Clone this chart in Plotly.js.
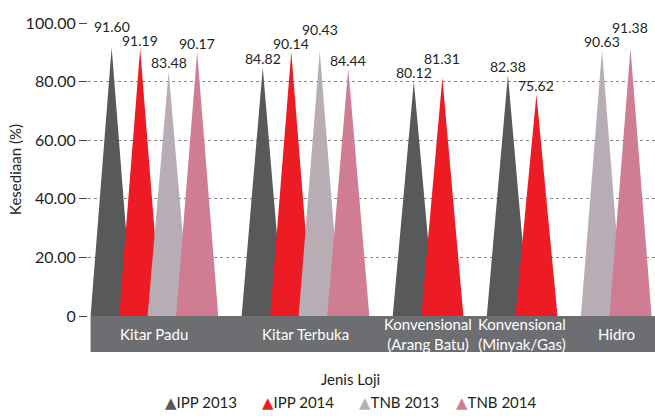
<!DOCTYPE html>
<html>
<head>
<meta charset="utf-8">
<script src="https://cdn.plot.ly/plotly-3.0.1.min.js"></script>
<style>
  html, body { margin: 0; padding: 0; background: #fff; }
  #chart { width: 655px; height: 416px; }
</style>
</head>
<body>
<div id="chart"></div>
<script>
// Kesediaan loji (%) mengikut jenis loji
var categories = ['Kitar Padu', 'Kitar Terbuka', 'Konvensional<br>(Arang Batu)', 'Konvensional<br>(Minyak/Gas)', 'Hidro'];
var seriesNames = ['IPP 2013', 'IPP 2014', 'TNB 2013', 'TNB 2014'];
var ipp2013 = [91.60, 84.82, 80.12, 82.38, null];
var ipp2014 = [91.19, 90.14, 81.31, 75.62, null];
var tnb2013 = [83.48, 90.43, null, null, 90.63];
var tnb2014 = [90.17, 84.44, null, null, 91.38];
var yTickVals = [0, 20, 40, 60, 80, 100];
var yTickText = ['0', '20.00', '40.00', '60.00', '80.00', '100.00'];

var colors = ['#58595b', '#ed1c24', '#b9adb5', '#d07d94'];
var allSeries = [ipp2013, ipp2014, tnb2013, tnb2014];
var font = 'Lato, "DejaVu Sans", sans-serif';
var ink = '#231f20';

var groupGap = 1.3;   // extra slots between groups
var halfW = 0.74;     // half base of each spike, in slots
var plotL = 88, plotW = 567, plotH = 294;
var pxPerUnit = plotH / 100;

// give each present value its own slot, groups packed one after another
var slotX = allSeries.map(function() { return []; });
var groupCenters = [];
var cursor = 0;
for (var c = 0; c < categories.length; c++) {
  var first = null, last = null;
  for (var s = 0; s < allSeries.length; s++) {
    if (allSeries[s][c] == null) { slotX[s].push(null); continue; }
    slotX[s].push(cursor);
    if (first === null) first = cursor;
    last = cursor;
    cursor += 1;
  }
  groupCenters.push((first + last) / 2);
  cursor += groupGap;
}
var xMin = -0.83, xMax = cursor - groupGap - 1 + 0.86;

var data = [];
// spikes
for (var s = 0; s < allSeries.length; s++) {
  var px = [], py = [];
  for (var c = 0; c < categories.length; c++) {
    var v = allSeries[s][c];
    if (v == null) continue;
    var x = slotX[s][c];
    px.push(x - halfW, x, x + halfW, null);
    py.push(0, v, 0, null);
  }
  data.push({
    x: px, y: py, name: seriesNames[s],
    type: 'scatter', mode: 'lines', fill: 'toself',
    fillcolor: colors[s], line: {width: 0, color: colors[s]},
    showlegend: false, hoverinfo: 'skip'
  });
}

// value labels, lifting the taller of two neighbours when they would collide
var labels = [];
for (var c = 0; c < categories.length; c++) {
  for (var s = 0; s < allSeries.length; s++) {
    var v = allSeries[s][c];
    if (v == null) continue;
    labels.push({x: slotX[s][c], v: v, pos: v * pxPerUnit - 2});
  }
}
for (var i = 1; i < labels.length; i++) {
  var a = labels[i - 1], b = labels[i];
  if (b.x - a.x > 1.01) continue;
  if (Math.abs(b.pos - a.pos) >= 14) continue;
  if (b.v >= a.v) b.pos = a.pos + 14; else a.pos = b.pos + 14;
}

var annotations = labels.map(function(l) {
  return {
    text: l.v.toFixed(2), x: l.x, xref: 'x', y: l.v, yref: 'y',
    xanchor: 'center', yanchor: 'bottom', yshift: l.pos - l.v * pxPerUnit,
    showarrow: false, font: {family: font, size: 14, color: ink}
  };
});
categories.forEach(function(name, i) {
  annotations.push({
    text: name, x: groupCenters[i], xref: 'x',
    y: -18 / plotH, yref: 'paper', yanchor: 'middle', xanchor: 'center',
    showarrow: false, font: {family: font, size: 15, color: '#ffffff'}
  });
});
annotations.push({
  text: 'Jenis Loji', x: (350 - plotL) / plotW, xref: 'paper',
  y: -(380 - 316.5) / plotH, yref: 'paper', yanchor: 'middle',
  showarrow: false, font: {family: font, size: 15, color: ink}
});

// legend row: coloured triangle followed by the series name
var legendX0 = 163, legendStep = 97;
seriesNames.forEach(function(name, s) {
  annotations.push({
    text: '<span style="color:' + colors[s] + '">\u25B2</span>' + name,
    x: (legendX0 + s * legendStep - plotL) / plotW, xref: 'paper', xanchor: 'left',
    y: -(403 - 316.5) / plotH, yref: 'paper', yanchor: 'middle',
    showarrow: false, font: {family: font, size: 15, color: ink}
  });
});

var layout = {
  width: 655, height: 416,
  margin: {l: plotL, r: 0, t: 22.5, b: 99.5},
  paper_bgcolor: '#ffffff', plot_bgcolor: '#ffffff',
  font: {family: font, color: ink},
  showlegend: false,
  xaxis: {
    range: [xMin, xMax], showgrid: false, zeroline: false,
    showticklabels: false, ticks: '', fixedrange: true
  },
  yaxis: {
    range: [0, 100], tickvals: yTickVals, ticktext: yTickText,
    ticks: 'outside', ticklen: 8, tickcolor: '#444', tickwidth: 1,
    tickfont: {family: font, size: 16, color: ink},
    showgrid: true, gridcolor: '#8a8a8a', griddash: 'dot', gridwidth: 1,
    zeroline: false, showline: false,
    title: {text: 'Kesediaan (%)', font: {family: font, size: 15, color: ink}, standoff: 0}
  },
  shapes: [{
    type: 'rect', layer: 'below', xref: 'x', yref: 'paper',
    x0: slotX[0][0] - halfW, x1: xMax, y0: -36 / plotH, y1: 0,
    fillcolor: '#6d6e71', line: {width: 0}
  }],
  annotations: annotations
};

Plotly.newPlot('chart', data, layout, {displayModeBar: false, staticPlot: true});
</script>
</body>
</html>
